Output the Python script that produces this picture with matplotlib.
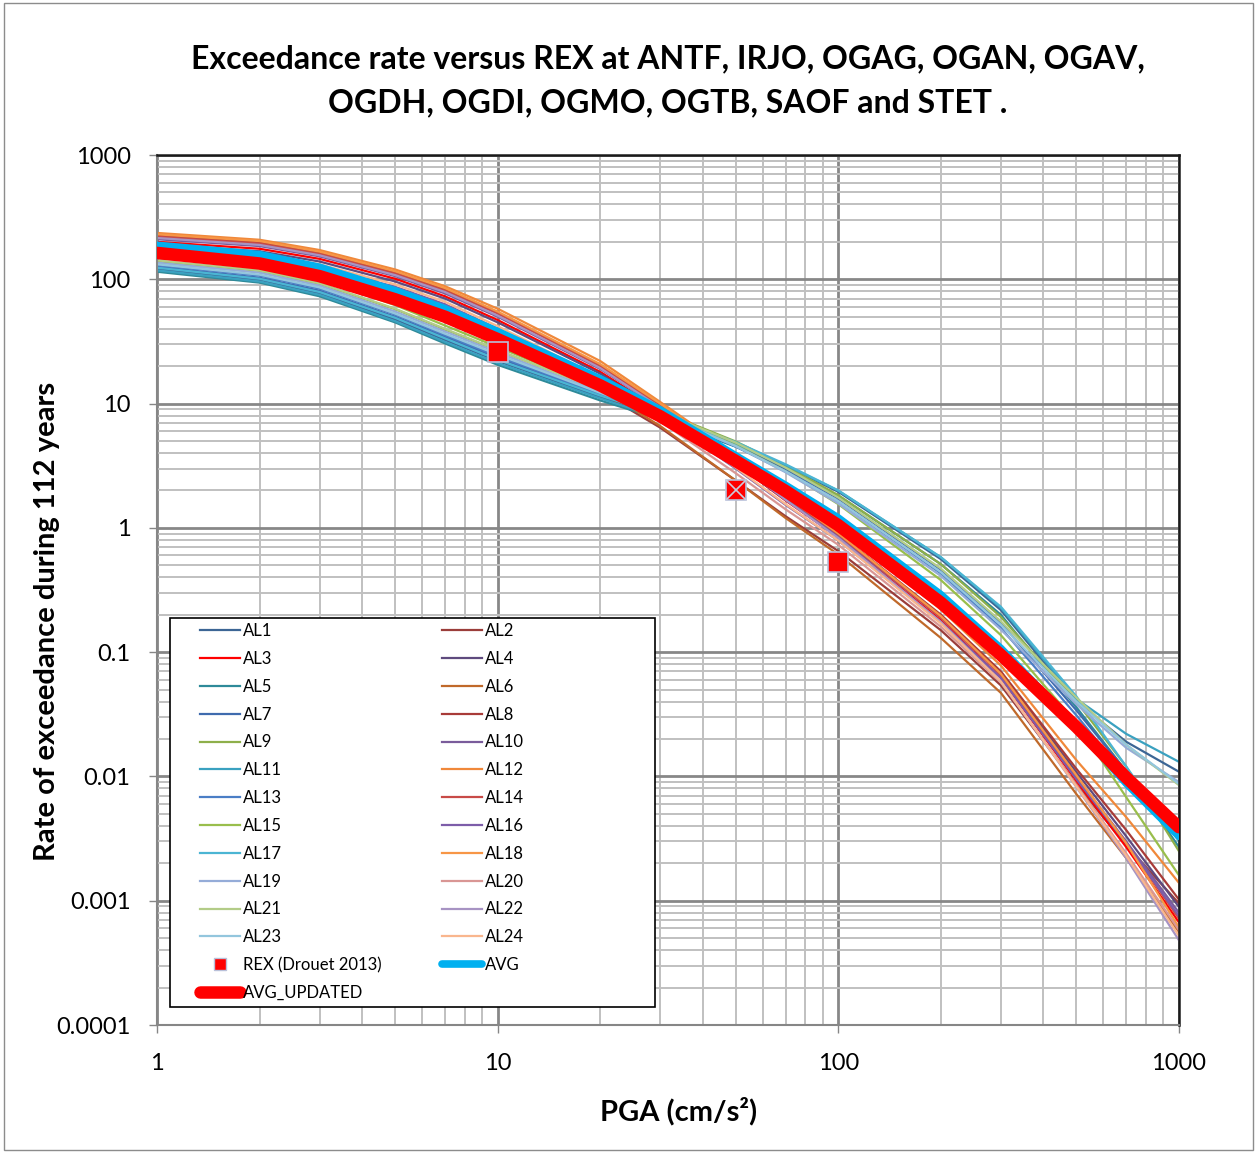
import numpy as np
import matplotlib
matplotlib.use("Agg")
import matplotlib.pyplot as plt
from matplotlib.patches import Rectangle
from matplotlib.lines import Line2D
from matplotlib.ticker import FixedLocator, FixedFormatter, NullFormatter

plt.rcParams['font.family'] = ['Lato', 'DejaVu Sans']

# ---- data ----
pga = [1, 2, 3, 5, 7, 10, 20, 30, 50, 70, 100, 200, 300, 500, 700, 1000]

curves = {
    "AL1":  [121, 99, 77, 47.5, 32.5, 22.0, 11.3, 7.9, 4.75, 3.15, 1.95, 0.56, 0.218, 0.040, 0.019, 0.0109],
    "AL2":  [148, 129, 105, 72, 52, 33, 12.4, 6.4, 2.4, 1.24, 0.65, 0.15, 0.054, 0.0086, 0.0028, 0.00095],
    "AL3":  [200, 176, 146, 101, 73, 47, 18.0, 8.9, 3.3, 1.66, 0.84, 0.18, 0.062, 0.0092, 0.0027, 0.00067],
    "AL4":  [190, 168, 139, 96, 70, 45, 17.4, 8.7, 3.3, 1.68, 0.86, 0.195, 0.069, 0.0108, 0.0033, 0.00089],
    "AL5":  [115, 94, 73, 45, 30.5, 20.5, 10.6, 7.5, 4.5, 3.0, 1.82, 0.51, 0.200, 0.036, 0.011, 0.0027],
    "AL6":  [168, 146, 118, 80, 57, 36, 13.2, 6.6, 2.4, 1.2, 0.61, 0.13, 0.047, 0.0072, 0.0022, 0.00056],
    "AL7":  [126, 103, 81, 50, 34.5, 23.3, 11.8, 8.1, 4.6, 2.95, 1.72, 0.46, 0.172, 0.034, 0.011, 0.0036],
    "AL8":  [225, 198, 164, 114, 83, 54, 20.3, 9.8, 3.6, 1.8, 0.90, 0.20, 0.070, 0.0115, 0.0037, 0.00102],
    "AL9":  [140, 117, 92, 57.5, 39.5, 26.8, 13.0, 8.7, 4.95, 3.15, 1.83, 0.51, 0.192, 0.040, 0.012, 0.0025],
    "AL10": [210, 185, 153, 106, 77, 50, 19.0, 9.3, 3.45, 1.74, 0.87, 0.19, 0.066, 0.0099, 0.0030, 0.0008],
    "AL11": [118, 96, 75, 46, 31.4, 21.2, 11.0, 7.7, 4.7, 3.2, 1.99, 0.58, 0.227, 0.042, 0.022, 0.0131],
    "AL12": [236, 208, 172, 120, 88, 58, 22, 10.3, 3.9, 1.95, 0.98, 0.22, 0.078, 0.0135, 0.0047, 0.00139],
    "AL13": [130, 107, 84, 52, 35.5, 24.0, 12.0, 8.1, 4.5, 2.85, 1.63, 0.43, 0.157, 0.031, 0.010, 0.0037],
    "AL14": [220, 194, 160, 111, 81, 53, 20.0, 9.6, 3.55, 1.78, 0.89, 0.19, 0.066, 0.0098, 0.0029, 0.00072],
    "AL15": [150, 125, 99, 62, 42.5, 28.5, 13.2, 8.6, 4.6, 2.85, 1.55, 0.38, 0.137, 0.027, 0.0068, 0.0016],
    "AL16": [172, 152, 126, 87, 63, 40, 15.4, 7.9, 3.0, 1.53, 0.79, 0.175, 0.062, 0.0095, 0.0029, 0.00075],
    "AL17": [124, 101, 79, 49, 33.5, 22.5, 11.6, 8.1, 4.9, 3.25, 2.00, 0.58, 0.232, 0.044, 0.012, 0.0030],
    "AL18": [230, 203, 167, 116, 85, 55, 20.8, 10.0, 3.65, 1.82, 0.90, 0.195, 0.067, 0.0102, 0.0029, 0.00061],
    "AL19": [136, 113, 89, 55, 38, 25.8, 12.4, 8.3, 4.55, 2.8, 1.57, 0.41, 0.152, 0.038, 0.017, 0.0090],
    "AL20": [160, 141, 116, 80, 58, 37, 14.0, 7.2, 2.75, 1.41, 0.73, 0.16, 0.057, 0.0085, 0.0024, 0.00058],
    "AL21": [142, 118, 93, 58, 40, 27.0, 12.9, 8.6, 4.85, 3.05, 1.75, 0.47, 0.177, 0.043, 0.018, 0.0085],
    "AL22": [215, 189, 156, 108, 79, 51, 19.3, 9.3, 3.4, 1.68, 0.83, 0.175, 0.058, 0.0082, 0.0022, 0.00048],
    "AL23": [132, 109, 86, 53, 36.5, 24.8, 12.2, 8.2, 4.55, 2.85, 1.64, 0.44, 0.166, 0.040, 0.018, 0.0087],
    "AL24": [182, 160, 132, 91, 66, 42, 16.2, 8.2, 3.05, 1.55, 0.79, 0.17, 0.058, 0.0083, 0.0023, 0.00052],
}

curve_colors = {
    "AL1": "#3C6695", "AL2": "#9B3D3A", "AL3": "#FF0000", "AL4": "#5E4A7E",
    "AL5": "#2E8A99", "AL6": "#C0692A", "AL7": "#3F6BAE", "AL8": "#A83B38",
    "AL9": "#8EAF4A", "AL10": "#7A5C9B", "AL11": "#3AA1C0", "AL12": "#F0883A",
    "AL13": "#4A7EC6", "AL14": "#C84A47", "AL15": "#99BE4C", "AL16": "#7D5DA9",
    "AL17": "#4BB5D3", "AL18": "#F79646", "AL19": "#95ACD8", "AL20": "#D99694",
    "AL21": "#B3CC88", "AL22": "#A793C3", "AL23": "#93C6DD", "AL24": "#F9B68E",
}

avg = [188, 158, 125, 81, 58, 38, 15.8, 8.9, 3.8, 2.2, 1.20, 0.29, 0.107, 0.025, 0.0088, 0.0033]
avg_updated = [163, 134, 106, 69, 50, 33, 14.0, 7.9, 3.45, 1.98, 1.05, 0.25, 0.095, 0.025, 0.0098, 0.0039]

rex_pga = [10, 50, 100]
rex_rate = [26, 2.0, 0.53]
rex_cross_pga = [50]
rex_cross_rate = [2.0]

y_ticks = [1e-4, 1e-3, 1e-2, 1e-1, 1, 10, 100, 1000]
y_labels = ["0.0001", "0.001", "0.01", "0.1", "1", "10", "100", "1000"]
x_ticks = [1, 10, 100, 1000]
x_labels = ["1", "10", "100", "1000"]

# ---- figure ----
fig = plt.figure(figsize=(12.57, 11.53), dpi=100)
fig.patches.append(Rectangle((0.003, 0.003), 0.994, 0.994, transform=fig.transFigure,
                             fill=False, edgecolor="#8C8C8C", linewidth=1.0))
ax = fig.add_axes([157 / 1257, 128 / 1153, 1022 / 1257, 870 / 1153])
ax.set_xscale("log")
ax.set_yscale("log")
ax.set_xlim(1, 1000)
ax.set_ylim(1e-4, 1000)

ax.xaxis.set_major_locator(FixedLocator(x_ticks))
ax.xaxis.set_major_formatter(FixedFormatter(x_labels))
ax.yaxis.set_major_locator(FixedLocator(y_ticks))
ax.yaxis.set_major_formatter(FixedFormatter(y_labels))
ax.xaxis.set_minor_formatter(NullFormatter())
ax.yaxis.set_minor_formatter(NullFormatter())
ax.grid(True, which="major", color="#878787", linewidth=2.0, zorder=0)
ax.grid(True, which="minor", color="#C0C0C0", linewidth=1.4, zorder=0)
ax.set_axisbelow(True)
ax.tick_params(which="major", direction="out", length=6, width=1, color="#868686",
               labelsize=17)
ax.tick_params(axis="y", which="major", pad=13)
ax.tick_params(axis="x", which="major", pad=14)
ax.tick_params(which="minor", length=0)
for s in ("left", "bottom"):
    ax.spines[s].set_color("#868686")
    ax.spines[s].set_linewidth(1.5)
for s in ("right", "top"):
    ax.spines[s].set_color("#1A1A1A")
    ax.spines[s].set_linewidth(1.8)

handles = {}
for name, vals in curves.items():
    ln, = ax.plot(pga, vals, color=curve_colors[name], linewidth=1.6, zorder=2,
                  solid_joinstyle="round", label=name)
    handles[name] = ln

h_avg, = ax.plot(pga, avg, color="#00B0F0", linewidth=5.5, zorder=3,
                 solid_capstyle="round", solid_joinstyle="round", label="AVG")
h_upd, = ax.plot(pga, avg_updated, color="#FF0000", linewidth=9, zorder=4,
                 solid_capstyle="round", solid_joinstyle="round", label="AVG_UPDATED")
h_rex, = ax.plot(rex_pga, rex_rate, linestyle="none", marker="s", markersize=15,
                 markerfacecolor="#FF0000", markeredgecolor="#B9C1DA",
                 markeredgewidth=1.2, zorder=6, label="REX (Drouet 2013)")
ax.plot(rex_cross_pga, rex_cross_rate, linestyle="none", marker="x", markersize=15,
        markeredgecolor="#C9CEE0", markeredgewidth=1.2, zorder=7)

ax.set_title("Exceedance rate versus REX at ANTF, IRJO, OGAG, OGAN, OGAV,\n"
             "OGDH, OGDI, OGMO, OGTB, SAOF and STET .",
             fontsize=23, fontweight="bold", pad=31, linespacing=1.6)
ax.set_xlabel("PGA (cm/s²)", fontsize=21, fontweight="bold")
ax.set_ylabel("Rate of exceedance during 112 years", fontsize=21,
              fontweight="bold")
ax.xaxis.set_label_coords(0.51, -0.083)
ax.yaxis.set_label_coords(-0.095, 0.464)

# legend box (Excel style, wider than its content)
ax.add_patch(Rectangle((0.0127, 0.0207), 0.4746, 0.4471, transform=ax.transAxes,
                       facecolor="white", edgecolor="black", linewidth=1.2,
                       zorder=8))
leg_rex = Line2D([], [], linestyle="none", marker="s", markersize=8,
                 markerfacecolor="#FF0000", markeredgecolor="#B9C1DA")
col1 = [handles[f"AL{i}"] for i in range(1, 24, 2)] + [leg_rex, h_upd]
lab1 = [f"AL{i}" for i in range(1, 24, 2)] + ["REX (Drouet 2013)", "AVG_UPDATED"]
col2 = [handles[f"AL{i}"] for i in range(2, 25, 2)] + [h_avg]
lab2 = [f"AL{i}" for i in range(2, 25, 2)] + ["AVG"]
leg = ax.legend(col1 + col2, lab1 + lab2, ncol=2, loc="upper left",
                bbox_to_anchor=(0.042, 0.462), frameon=False, fontsize=12,
                handlelength=2.4, handletextpad=0.2, columnspacing=3.6,
                labelspacing=0.71, borderaxespad=0, borderpad=0)
leg.set_zorder(9)

fig.savefig("out.png", dpi=100)
